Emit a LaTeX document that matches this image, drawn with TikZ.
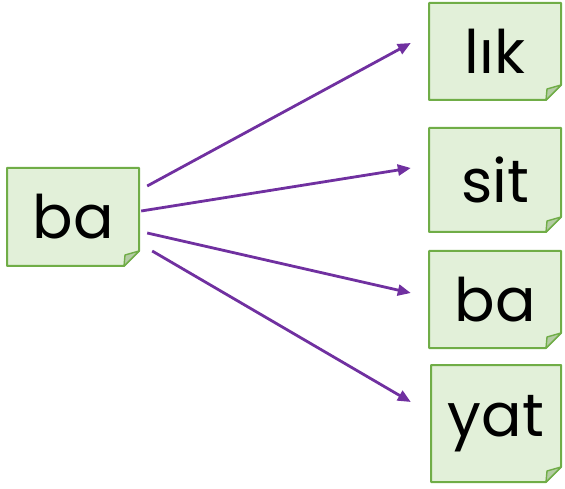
\documentclass[tikz,border=0pt]{standalone}
\usepackage{fontspec}
\setmainfont{Poppins}
\usetikzlibrary{arrows.meta,calc}
\definecolor{boxfill}{HTML}{E2F0D9}
\definecolor{boxline}{HTML}{70AD47}
\definecolor{foldfill}{HTML}{B4CCA4}
\definecolor{arrowc}{HTML}{7030A0}
\tikzset{
  notetext/.style={inner sep=0pt, font=\fontsize{60}{70}\selectfont},
  link/.style={draw=arrowc, line width=2.8pt, -{Triangle[length=13pt,width=11pt]}},
}
% name, x0, y0 (bottom), x1, y1 (top), text
\newcommand\notebox[6]{%
  \filldraw[fill=boxfill, draw=boxline, line width=2pt, line join=round]
    (#2,#3) -- (#4-15,#3) -- (#4,#3+15) -- (#4,#5) -- (#2,#5) -- cycle;
  \filldraw[fill=foldfill, draw=boxline, line width=1.4pt, line join=round]
    (#4-15,#3) -- (#4,#3+15) -- (#4-14,#3+11) -- cycle;
  \node[notetext, minimum width=#4pt-#2pt, minimum height=#5pt-#3pt] (#1) at ({(#2+#4)/2},{(#3+#5)/2}) {#6};
}
\begin{document}
\begin{tikzpicture}[x=1pt,y=1pt]
\useasboundingbox (0,0) rectangle (565,488);
\notebox{src}{7}{222}{139}{320}{ba}
\notebox{lik}{429}{388}{561}{485}{lık}
\notebox{sit}{429}{256}{561}{360}{sit}
\notebox{bab}{429}{140}{561}{237}{ba}
\notebox{yat}{431}{6}{561}{123}{yat}
\draw[link] ($(src.east)+(8,31)$) -- ($(lik.west)+(-18,8.5)$);
\draw[link] ($(src.east)+(2,6)$) -- ($(sit.west)+(-18,12)$);
\draw[link] ($(src.east)+(8,-16)$) -- ($(bab.west)+(-18,6.5)$);
\draw[link] ($(src.east)+(13,-34)$) -- ($(yat.west)+(-20,21.5)$);
\end{tikzpicture}
\end{document}
